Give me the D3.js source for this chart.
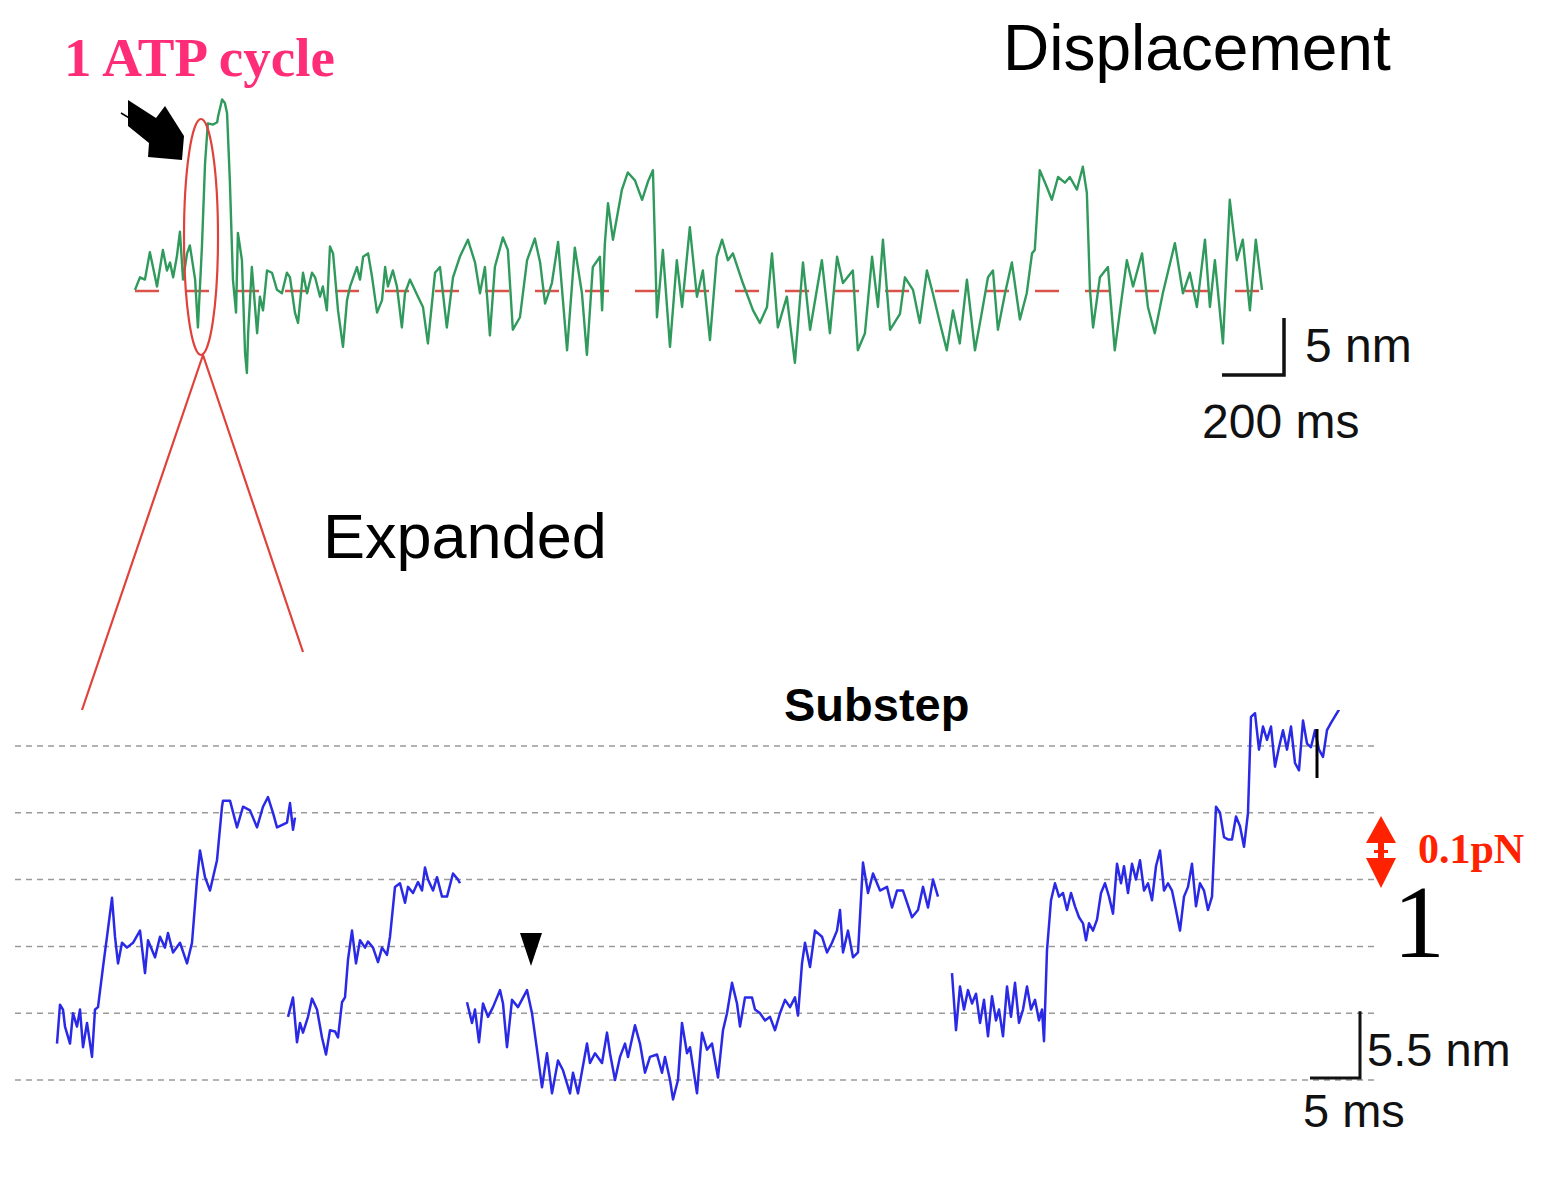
<!DOCTYPE html>
<html>
<head>
<meta charset="utf-8">
<script src="https://cdn.jsdelivr.net/npm/d3@7"></script>
<style>
  body { margin: 0; background: #fff; }
  svg { display: block; }
</style>
</head>
<body>
<svg id="fig" width="1552" height="1180"></svg>
<script>
// ---- Overview displacement record: [time (ms), displacement (nm)] ----
const overviewTrace = [
  [0,0.1],[16,1.2],[32,1.0],[48,3.4],[58,2.1],[71,0.4],[90,3.6],[103,1.8],[113,2.5],[123,1.2],
  [135,3.0],[145,5.2],[155,1.0],[168,3.3],[177,4.0],[194,1.0],[203,-3.2],[216,3.9],[226,11.2],[235,14.7],
  [252,14.6],[265,14.8],[268,15.3],[281,16.8],[290,16.5],[297,15.6],[306,9.7],[316,1.0],[326,-1.9],[332,5.1],
  [345,2.7],[355,-5.4],[361,-7.2],[365,-3.7],[377,2.1],[394,-3.7],[403,-0.5],[413,-1.7],[426,1.8],[442,1.6],
  [458,0.1],[474,-0.2],[490,1.6],[500,1.2],[516,-1.9],[526,-2.8],[542,1.6],[555,-0.2],[571,1.6],[581,1.2],
  [597,-0.5],[606,0.4],[619,-1.7],[629,3.9],[639,3.3],[655,-1.7],[671,-4.9],[684,-0.8],[694,0.4],[716,2.1],
  [726,1.0],[736,3.0],[752,3.3],[765,1.2],[781,-1.9],[797,-0.8],[807,2.1],[816,0.4],[832,1.8],[845,0.4],
  [861,-3.2],[871,-0.2],[887,1.0],[913,-0.5],[929,-1.4],[945,-4.6],[968,1.6],[984,2.1],[1006,-3.2],[1026,1.2],
  [1048,3.0],[1074,4.5],[1097,2.5],[1113,-0.2],[1129,2.1],[1145,-3.9],[1161,2.1],[1187,4.7],[1203,3.6],[1219,-3.4],
  [1242,-2.3],[1265,2.7],[1290,4.6],[1307,2.5],[1323,-1.1],[1345,0.7],[1365,4.3],[1394,-5.2],[1419,3.8],[1442,-0.2],
  [1458,-5.6],[1477,2.1],[1500,3.0],[1507,-1.7],[1516,4.2],[1526,7.7],[1542,4.5],[1571,8.9],[1590,10.4],[1613,9.7],
  [1636,8.0],[1655,9.6],[1671,10.6],[1684,-2.3],[1703,3.6],[1726,-4.9],[1748,2.7],[1765,-1.4],[1790,5.6],[1813,-0.5],
  [1832,1.8],[1855,-4.3],[1877,3.0],[1894,4.5],[1913,2.7],[1929,3.3],[1961,0.7],[1994,-1.7],[2016,-2.8],[2039,-1.4],
  [2055,3.3],[2074,-3.2],[2103,-0.5],[2129,-6.3],[2155,2.5],[2178,-3.4],[2216,2.7],[2242,-3.7],[2265,3.0],[2284,0.7],
  [2316,1.8],[2332,-5.2],[2355,-3.7],[2378,3.0],[2397,-1.4],[2413,4.5],[2436,-3.4],[2468,-2.0],[2484,1.2],[2510,0.1],
  [2532,-2.8],[2555,1.8],[2574,-0.2],[2597,-2.8],[2619,-5.2],[2639,-1.7],[2661,-4.6],[2684,1.0],[2710,-5.2],[2732,-1.9],
  [2752,1.2],[2768,1.8],[2784,-3.4],[2807,-0.2],[2829,2.5],[2855,-2.5],[2877,-0.2],[2894,3.3],[2903,3.6],[2919,10.6],
  [2942,9.1],[2958,8.0],[2978,10.0],[3000,9.5],[3016,10.0],[3039,8.9],[3058,10.9],[3071,8.6],[3081,0.1],[3091,-3.2],
  [3113,1.2],[3139,2.1],[3161,-5.2],[3184,-0.5],[3200,2.7],[3220,0.4],[3249,3.3],[3268,-1.4],[3290,-3.7],[3316,-0.2],
  [3355,4.2],[3381,-0.2],[3403,1.6],[3426,-1.4],[3452,4.5],[3468,-1.4],[3484,2.7],[3510,-4.6],[3532,8.0],[3555,2.7],
  [3574,4.5],[3597,-1.7],[3616,4.5],[3636,0.1]
];
const overviewBaseline = 0;        // nm
const overviewBar = { nm: 5, ms: 200 };

// ---- Expanded records (substeps): [time (ms), displacement (nm)] ----
const substepRun1 = [
  [4.2,3.0],[4.5,6.2],[4.8,5.8],[5.0,4.4],[5.5,3.0],[5.8,5.5],[6.2,4.4],[6.5,5.8],[6.8,2.7],[7.2,4.7],
  [7.7,1.9],[8.0,5.8],[8.3,6.0],[8.8,9.3],[9.2,11.8],[9.7,15.0],[10.0,11.8],[10.3,9.6],[10.7,11.3],[11.2,10.9],
  [11.8,11.3],[12.5,12.3],[13.0,8.8],[13.3,11.5],[14.0,10.1],[14.5,11.8],[15.0,10.9],[15.3,12.1],[15.8,10.5],[16.5,11.3],
  [17.2,9.6],[17.7,11.3],[18.2,16.5],[18.5,18.9],[19.0,16.7],[19.5,15.6],[20.2,18.1],[20.7,22.5],[20.8,23.0],[21.5,23.0],
  [22.2,20.8],[22.8,22.5],[23.5,22.2],[24.2,20.8],[24.8,22.5],[25.3,23.3],[25.8,22.0],[26.2,20.8],[27.2,21.2],[27.5,22.8],
  [27.8,20.6],[28.0,21.6]
];
const substepRun2 = [
  [27.3,5.2],[27.8,6.8],[28.2,3.1],[28.5,4.7],[28.8,3.9],[29.3,5.2],[29.7,6.7],[30.2,5.8],[30.7,3.5],[31.1,2.1],
  [31.5,4.1],[32.0,4.0],[32.3,3.5],[32.7,6.4],[33.0,6.8],[33.3,9.9],[33.7,12.3],[34.1,9.6],[34.5,11.5],[35.0,10.9],
  [35.3,11.4],[35.8,10.9],[36.3,9.7],[36.7,10.9],[37.2,10.3],[37.5,11.8],[38.0,15.9],[38.5,16.2],[39.0,14.6],[39.3,15.9],
  [39.8,15.4],[40.3,16.3],[40.7,15.6],[41.0,17.5],[41.3,16.5],[41.8,15.6],[42.2,16.7],[42.7,15.1],[43.2,15.1],[43.8,17.0],
  [44.3,16.5],[44.5,16.2]
];
const substepRun3 = [
  [45.2,6.4],[45.7,4.7],[46.0,5.8],[46.4,3.1],[46.8,6.3],[47.3,5.2],[47.8,6.0],[48.5,7.4],[48.8,6.3],[49.2,2.7],
  [49.7,6.6],[50.3,6.0],[51.2,7.4],[51.7,5.5],[52.2,2.5],[52.7,-0.6],[53.2,2.2],[53.7,-1.1],[54.3,1.6],[54.8,0.8],
  [55.5,-1.1],[55.8,0.6],[56.3,-1.1],[57.2,3.0],[57.5,1.4],[58.0,2.2],[58.7,1.4],[59.2,3.9],[59.5,2.2],[60.0,0.0],
  [60.5,1.9],[61.0,3.0],[61.3,1.9],[62.0,4.5],[62.5,3.0],[63.0,0.6],[63.5,1.9],[64.2,2.1],[64.7,0.6],[65.0,1.9],
  [65.5,0.0],[65.8,-1.6],[66.3,0.0],[66.7,4.7],[67.2,2.2],[67.5,2.7],[68.2,-1.1],[68.7,3.9],[69.2,2.5],[69.7,3.0],
  [70.3,0.2],[70.8,4.1],[71.2,5.5],[71.7,8.0],[72.2,6.3],[72.5,4.4],[73.0,6.8],[73.7,6.8],[74.0,5.8],[74.5,5.5],
  [75.0,4.9],[75.5,5.2],[76.0,4.1],[76.5,5.5],[77.0,6.6],[77.5,6.0],[78.0,6.8],[78.3,5.3],[78.7,9.6],[79.0,11.3],
  [79.5,9.3],[80.0,12.3],[80.7,11.8],[81.2,10.5],[81.7,11.3],[82.2,12.3],[82.5,14.0],[82.8,10.5],[83.3,12.3],[83.8,10.1],
  [84.3,10.5],[84.8,17.9],[85.3,15.4],[85.8,17.0],[86.5,15.6],[87.2,15.9],[87.7,14.2],[88.2,15.6],[88.8,15.6],[89.7,13.4],
  [90.3,14.0],[90.8,15.9],[91.3,14.2],[91.8,16.5],[92.3,15.1]
];
const substepRun4 = [
  [93.7,8.8],[94.1,4.1],[94.5,7.7],[94.9,5.8],[95.3,7.4],[95.7,6.3],[96.1,7.1],[96.5,4.7],[96.9,6.6],[97.3,3.6],
  [97.7,6.9],[98.1,4.9],[98.4,5.8],[98.8,3.6],[99.2,7.7],[99.6,5.2],[100.0,8.0],[100.4,4.7],[100.8,5.8],[101.2,7.7],
  [101.6,5.8],[102.0,6.6],[102.4,4.9],[102.7,5.8],[102.9,3.2],[103.2,10.7],[103.6,14.8],[104.0,16.2],[104.4,15.1],[104.8,15.4],
  [105.2,14.0],[105.6,15.4],[106.0,14.3],[106.4,13.4],[106.8,12.9],[107.1,11.5],[107.4,12.9],[107.8,12.3],[108.2,13.2],[108.6,15.4],
  [109.0,16.2],[109.4,15.1],[109.8,13.7],[110.2,17.8],[110.6,16.2],[110.9,17.6],[111.3,15.4],[111.7,17.8],[112.1,16.5],[112.5,18.1],
  [112.9,15.6],[113.3,16.2],[113.7,14.8],[114.1,17.6],[114.5,18.9],[114.9,15.6],[115.3,16.2],[115.7,15.6],[116.1,14.0],[116.5,12.3],
  [116.9,15.1],[117.3,15.9],[117.7,17.8],[118.1,14.3],[118.5,16.2],[118.9,15.6],[119.3,14.0],[119.7,15.1],[120.1,22.5],[120.5,22.0],
  [120.9,20.0],[121.3,19.8],[121.7,19.8],[122.1,21.7],[122.5,20.9],[122.9,19.2],[123.3,22.0],[123.6,29.9],[124.0,30.2],[124.4,27.2],
  [124.8,29.1],[125.2,28.0],[125.6,29.1],[126.0,25.8],[126.4,27.4],[126.8,28.8],[127.2,27.2],[127.6,29.1],[128.0,26.1],[128.4,25.5],
  [128.8,29.6],[129.2,27.7],[129.6,27.4],[130.0,28.8],[130.4,27.2],[130.8,26.6],[131.2,28.8],[131.6,29.4],[132.4,30.5]
];
const substepRuns = [substepRun1, substepRun2, substepRun3, substepRun4];
const substepLevels = [0, 5.5, 11, 16.5, 22, 27.5];   // nm
const substepBar = { nm: 5.5, ms: 5 };
const dwellMarkerTime = 51.6;       // ms, ▼ marker above run 3
const endMarkerTime = 130.2;        // ms, short tick on run 4

// ---- Text ----
const titleTop = "Displacement";
const titleMid = "Expanded";
const titleBottom = "Substep";
const cycleLabel = "1 ATP cycle";
const forceLabel = "0.1pN";
const panelNumber = "1";

const svg = d3.select("#fig");

// ================= Overview panel =================
const xTop = d3.scaleLinear().domain([0, 3636]).range([135, 1262]);
const yTop = d3.scaleLinear().domain([0, 5]).range([291, 234]);

svg.append("line")
  .attr("x1", xTop(0)).attr("x2", xTop(3636))
  .attr("y1", yTop(overviewBaseline)).attr("y2", yTop(overviewBaseline))
  .attr("stroke", "#d9534a").attr("stroke-width", 2.4)
  .attr("stroke-dasharray", "24,26");

svg.append("path")
  .datum(overviewTrace)
  .attr("fill", "none")
  .attr("stroke", "#2f9a5c")
  .attr("stroke-width", 2.4)
  .attr("stroke-linejoin", "round")
  .attr("d", d3.line().x(d => xTop(d[0])).y(d => yTop(d[1])));

// zoom ellipse around the first event and its connector lines
svg.append("ellipse")
  .attr("cx", 201).attr("cy", 237).attr("rx", 17).attr("ry", 118)
  .attr("fill", "none").attr("stroke", "#e0413a").attr("stroke-width", 2.2);
svg.append("line").attr("x1", 203).attr("y1", 355).attr("x2", 82).attr("y2", 710)
  .attr("stroke", "#e0413a").attr("stroke-width", 2.2);
svg.append("line").attr("x1", 203).attr("y1", 355).attr("x2", 303).attr("y2", 652)
  .attr("stroke", "#e0413a").attr("stroke-width", 2.2);

// pointer arrow
svg.append("path")
  .attr("d", "M128,100 L156,118 L165,106 L184,136 L182,160 L148,157 L149,143 L128,126 Z")
  .attr("fill", "#000");
svg.append("line").attr("x1", 121).attr("y1", 113).attr("x2", 131).attr("y2", 119)
  .attr("stroke", "#000").attr("stroke-width", 1.5);

// overview scale bar
const tbX = 1284, tbY = 375;
const tbH = yTop(0) - yTop(overviewBar.nm);
const tbW = xTop(overviewBar.ms) - xTop(0);
svg.append("path")
  .attr("d", `M${tbX - tbW},${tbY} L${tbX},${tbY} L${tbX},${tbY - tbH}`)
  .attr("fill", "none").attr("stroke", "#111").attr("stroke-width", 3.5);
svg.append("text").attr("x", 1305).attr("y", 362)
  .attr("font-family", "Liberation Sans, Arial, sans-serif").attr("font-size", 48)
  .attr("fill", "#111").text(`${overviewBar.nm} nm`);
svg.append("text").attr("x", 1202).attr("y", 438)
  .attr("font-family", "Liberation Sans, Arial, sans-serif").attr("font-size", 48)
  .attr("fill", "#111").text(`${overviewBar.ms} ms`);

// titles
svg.append("text").attr("x", 64).attr("y", 76)
  .attr("font-family", "Liberation Serif, Times New Roman, serif").attr("font-weight", "bold")
  .attr("font-size", 55).attr("fill", "#ff2d78").text(cycleLabel);
svg.append("text").attr("x", 1003).attr("y", 70)
  .attr("font-family", "Liberation Sans, Arial, sans-serif").attr("font-size", 64)
  .attr("fill", "#000").text(titleTop);
svg.append("text").attr("x", 323).attr("y", 558)
  .attr("font-family", "Liberation Sans, Arial, sans-serif").attr("font-size", 63)
  .attr("fill", "#000").text(titleMid);

// ================= Substep panel =================
const xBot = d3.scaleLinear().domain([0, 136.3]).range([15, 1378]);
const yBot = d3.scaleLinear().domain([0, 27.5]).range([1080, 746]);

svg.append("g").selectAll("line")
  .data(substepLevels)
  .join("line")
  .attr("x1", xBot(0)).attr("x2", xBot(136.3))
  .attr("y1", d => yBot(d)).attr("y2", d => yBot(d))
  .attr("stroke", "#9a9a9a").attr("stroke-width", 1.5)
  .attr("stroke-dasharray", "6,5");

const botClip = svg.append("clipPath").attr("id", "botClip");
botClip.append("rect").attr("x", 0).attr("y", 710).attr("width", 1552).attr("height", 470);

const lineBot = d3.line().x(d => xBot(d[0])).y(d => yBot(d[1]));
svg.append("g").attr("clip-path", "url(#botClip)")
  .selectAll("path")
  .data(substepRuns)
  .join("path")
  .attr("fill", "none")
  .attr("stroke", "#2a2ae6")
  .attr("stroke-width", 2.5)
  .attr("stroke-linejoin", "round")
  .attr("d", lineBot);

// ▼ marker and end tick
const mx = xBot(dwellMarkerTime);
svg.append("path")
  .attr("d", `M${mx - 11},933 L${mx + 11},933 L${mx},966 Z`)
  .attr("fill", "#000");
svg.append("line")
  .attr("x1", xBot(endMarkerTime)).attr("x2", xBot(endMarkerTime))
  .attr("y1", 729).attr("y2", 778)
  .attr("stroke", "#000").attr("stroke-width", 3);

// substep scale bar
const bbX = 1360, bbY = 1078;
const bbH = yBot(0) - yBot(substepBar.nm);
const bbW = xBot(substepBar.ms) - xBot(0);
svg.append("path")
  .attr("d", `M${bbX - bbW},${bbY} L${bbX},${bbY} L${bbX},${bbY - bbH}`)
  .attr("fill", "none").attr("stroke", "#111").attr("stroke-width", 3);
svg.append("text").attr("x", 1367).attr("y", 1066)
  .attr("font-family", "Liberation Sans, Arial, sans-serif").attr("font-size", 47)
  .attr("fill", "#111").text(`${substepBar.nm} nm`);
svg.append("text").attr("x", 1303).attr("y", 1127)
  .attr("font-family", "Liberation Sans, Arial, sans-serif").attr("font-size", 47)
  .attr("fill", "#111").text(`${substepBar.ms} ms`);

// force arrow
svg.append("path")
  .attr("d", "M1381,816 L1396,843 L1384,843 L1384,850 L1388,850 L1388,853 L1384,853 L1384,858 L1396,858 L1381,888 L1366,858 L1378,858 L1378,853 L1374,853 L1374,850 L1378,850 L1378,843 L1366,843 Z")
  .attr("fill", "#ff2200");
svg.append("text").attr("x", 1418).attr("y", 863)
  .attr("font-family", "Liberation Serif, Times New Roman, serif").attr("font-weight", "bold")
  .attr("font-size", 42).attr("fill", "#ff2200").text(forceLabel);
svg.append("text").attr("x", 1419).attr("y", 957).attr("text-anchor", "middle")
  .attr("font-family", "Liberation Serif, Times New Roman, serif")
  .attr("font-size", 104).attr("fill", "#000").text(panelNumber);

svg.append("text").attr("x", 784).attr("y", 721)
  .attr("font-family", "Liberation Sans, Arial, sans-serif").attr("font-weight", "bold")
  .attr("font-size", 47).attr("fill", "#000").text(titleBottom);
</script>
</body>
</html>
